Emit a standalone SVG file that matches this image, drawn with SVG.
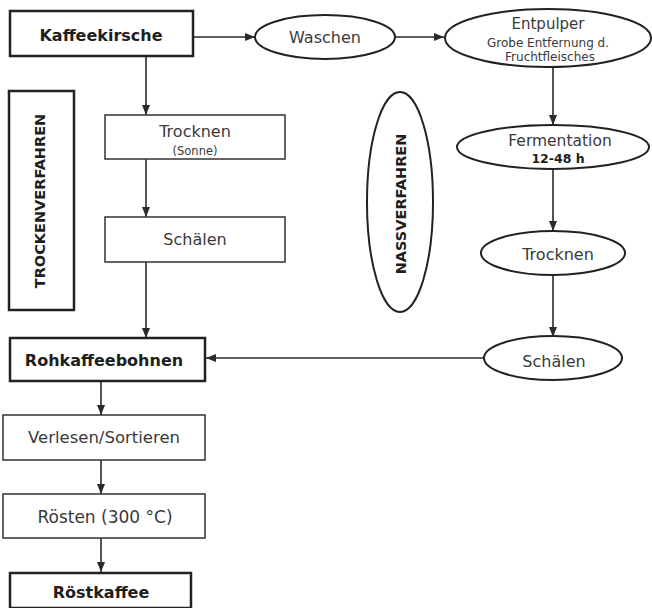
<svg xmlns="http://www.w3.org/2000/svg" width="652" height="608" viewBox="0 0 652 608">
<defs>
<style>
text{font-family:"DejaVu Sans","Liberation Sans",sans-serif;fill:#3a3a3a;text-anchor:middle;dominant-baseline:central}
.b{font-weight:bold;fill:#1e1e1e}
.thick{fill:#fff;stroke:#222;stroke-width:2.5}
.thin{fill:#fff;stroke:#333;stroke-width:1.5}
.ell{fill:#fff;stroke:#222;stroke-width:2}
.conn line{stroke:#2a2a2a;stroke-width:1.6;marker-end:url(#ah)}
</style>
<marker id="ah" markerUnits="userSpaceOnUse" markerWidth="10" markerHeight="8" refX="10" refY="4" orient="auto">
<path d="M0,0 L10,4 L0,8 Z" fill="#2a2a2a"/>
</marker>
</defs>
<rect width="652" height="608" fill="#fff"/>
<g class="conn">
<line x1="193" y1="37" x2="255" y2="37"/>
<line x1="395" y1="37" x2="444" y2="37"/>
<line x1="553" y1="67" x2="553" y2="125"/>
<line x1="553" y1="170" x2="553" y2="231"/>
<line x1="553" y1="275" x2="553" y2="337"/>
<line x1="484" y1="358" x2="206" y2="358"/>
<line x1="146" y1="56" x2="146" y2="115"/>
<line x1="146" y1="159" x2="146" y2="217"/>
<line x1="146" y1="262" x2="146" y2="338"/>
<line x1="101" y1="381" x2="101" y2="415"/>
<line x1="101" y1="460" x2="101" y2="494"/>
<line x1="101" y1="538" x2="101" y2="572"/>
</g>
<g id="kaffeekirsche"><rect class="thick" x="10" y="11" width="183" height="45"/><text class="b" x="101" y="35" font-size="16">Kaffeekirsche</text></g>
<g id="waschen"><ellipse class="ell" cx="325" cy="37" rx="70" ry="22"/><text x="325" y="37" font-size="16">Waschen</text></g>
<g id="entpulper"><ellipse class="ell" cx="548" cy="38" rx="103" ry="29"/><text x="548" y="24" font-size="15">Entpulper</text><text x="548" y="43" font-size="12">Grobe Entfernung d.</text><text x="550" y="57" font-size="12">Fruchtfleisches</text></g>
<g id="trockenverfahren"><rect class="thick" x="9" y="91" width="65" height="219"/><text class="b" transform="translate(40,201) rotate(-90)" font-size="14.5">TROCKENVERFAHREN</text></g>
<g id="trocknen-sonne"><rect class="thin" x="105" y="115" width="180" height="44"/><text x="195" y="131" font-size="16">Trocknen</text><text x="195" y="151" font-size="11.5">(Sonne)</text></g>
<g id="schaelen-box"><rect class="thin" x="105" y="217" width="180" height="45"/><text x="195" y="239" font-size="16">Schälen</text></g>
<g id="nassverfahren"><ellipse class="ell" cx="400" cy="202" rx="33" ry="110"/><text class="b" transform="translate(401,204) rotate(-90)" font-size="14.5">NASSVERFAHREN</text></g>
<g id="fermentation"><ellipse class="ell" cx="553" cy="147" rx="96" ry="22"/><text x="560" y="141" font-size="15.5">Fermentation</text><text class="b" x="558" y="158" font-size="12.5" fill="#333">12-48 h</text></g>
<g id="trocknen-nass"><ellipse class="ell" cx="553" cy="253" rx="72" ry="22"/><text x="558" y="254" font-size="16">Trocknen</text></g>
<g id="schaelen-nass"><ellipse class="ell" cx="553" cy="358" rx="69" ry="22"/><text x="554" y="361" font-size="16">Schälen</text></g>
<g id="rohkaffeebohnen"><rect class="thick" x="10" y="338" width="195" height="43"/><text class="b" x="104" y="360" font-size="16">Rohkaffeebohnen</text></g>
<g id="verlesen"><rect class="thin" x="3" y="415" width="202" height="45"/><text x="104" y="437" font-size="16.5">Verlesen/Sortieren</text></g>
<g id="roesten"><rect class="thin" x="3" y="494" width="202" height="44"/><text x="105" y="517" font-size="17">Rösten (300 °C)</text></g>
<g id="roestkaffee"><rect class="thick" x="10" y="573" width="181" height="35"/><text class="b" x="101" y="592" font-size="16">Röstkaffee</text></g>
</svg>
